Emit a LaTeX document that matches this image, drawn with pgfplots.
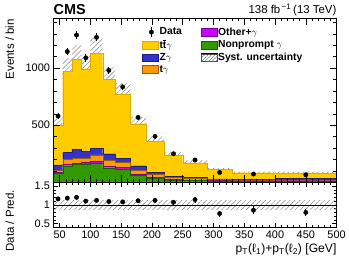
\documentclass[border=0pt]{standalone}
\usepackage{fontspec}
\setmainfont{Liberation Sans}
\usepackage{pgfplots}
\usepackage{pgfplotstable}
\pgfplotsset{compat=1.18}
\usepgfplotslibrary{fillbetween}
\usetikzlibrary{patterns,patterns.meta}

\definecolor{ttcol}{RGB}{255,204,0}
\definecolor{zcol}{RGB}{51,51,204}
\definecolor{tcol}{RGB}{255,153,0}
\definecolor{ocol}{RGB}{204,0,255}
\definecolor{npcol}{RGB}{51,153,0}

% bin left edges, last row repeats last bin at x=500
\pgfplotstableread{
x np oth tg zg tt
40 80 9 14 50 347
55 145 12 45 60 708
70 155 12 45 78 785
85 155 18 37 62 723
100 168 14 58 58 834
120 128 12 50 60 650
140 118 14 44 36 563
165 62 10 35 38 366
190 33 10 25 18 272
220 22 6 14 12 180
250 18 5 12 10 126
290 12 4 8 6 82
330 10 4 7 6 57
400 10 4 6 12 51
500 10 4 6 12 51
}\stacktab

\pgfplotstableread{
x y e r re
47.5 580 24 1.16 0.048
62.5 1145 34 1.18 0.035
77.5 1290 36 1.20 0.034
92.5 1090 33 1.10 0.033
110 1270 36 1.12 0.032
130 980 31 1.09 0.034
152.5 835 29 1.08 0.037
177.5 568 24 1.11 0.047
205 402 20 1.12 0.056
235 250 16 1.07 0.068
270 195 14 1.14 0.08
310 86 9 0.77 0.08
365 72 8.5 0.86 0.10
450 66 8 0.80 0.096
}\datatab

\pgfplotstableread{
x lo up
40 440 560
55 854 1086
70 946 1204
85 876 1114
100 996 1268
120 792 1008
140 682 868
165 450 572
190 315 401
220 206 262
250 150 192
290 99 125
330 74 94
400 73 93
500 73 93
}\bandtab

\pgfplotsset{
  cmsax/.style={
    scale only axis, width=285pt, xmin=40, xmax=500,
    tick align=inside,
    xtick={50,100,...,500},
    minor xtick={40,50,...,500},
    major tick length=7pt, minor tick length=3.5pt,
    tick style={black, line width=0.5pt},
    axis line style={line width=0.6pt},
    ticklabel style={font=\fontsize{11}{12}\selectfont},
    /pgf/number format/assume math mode=true,
    /pgf/number format/set thousands separator={},
  },
  hatch/.style={pattern={Lines[angle=45,distance=3.5pt,line width=0.45pt]}, pattern color=black!50, draw=none},
}

\begin{document}
\begin{tikzpicture}

% ---------- upper panel: stacked prediction ----------
\begin{axis}[cmsax, at={(53.8pt,77.5pt)}, anchor=south west, height=165.5pt,
  ymin=0, ymax=1440, ytick={500,1000}, minor ytick={0,100,...,1400},
  xticklabels={}, stack plots=y, axis on top, clip mode=individual,
  ylabel={Events / bin},
  ylabel style={at={(rel axis cs:0,1)}, anchor=south east, yshift=39.5pt, xshift=-1pt, inner sep=0pt, font=\fontsize{11.6}{12}\selectfont},
]
\addplot[const plot mark left, fill=npcol, draw=npcol!60!black, line width=0.3pt] table[x=x,y=np]{\stacktab} \closedcycle;
\addplot[const plot mark left, fill=ocol, draw=ocol!60!black, line width=0.3pt] table[x=x,y=oth]{\stacktab} \closedcycle;
\addplot[const plot mark left, fill=tcol, draw=tcol!60!black, line width=0.3pt] table[x=x,y=tg]{\stacktab} \closedcycle;
\addplot[const plot mark left, fill=zcol, draw=zcol!60!black, line width=0.3pt] table[x=x,y=zg]{\stacktab} \closedcycle;
\addplot[const plot mark left, fill=ttcol, draw=ttcol!85!black, line width=0.3pt] table[x=x,y=tt]{\stacktab} \closedcycle;
\node[anchor=base west, inner sep=0pt, font=\fontsize{14.5}{15}\selectfont\bfseries] at (rel axis cs:0,1) [yshift=3.5pt] {CMS};
\node[anchor=base east, inner sep=0pt, font=\fontsize{11.5}{12}\selectfont] at (rel axis cs:1,1) [yshift=4.5pt] {138 fb\textsuperscript{\,−1}\,(13 TeV)};
\end{axis}

% ---------- upper panel overlay: uncertainty band, data, legend ----------
\begin{axis}[cmsax, at={(53.8pt,77.5pt)}, anchor=south west, height=165.5pt,
  ymin=0, ymax=1440, axis lines=none, xticklabels={}, yticklabels={},
  legend cell align=left,
  legend style={at={(0.313,0.948)}, anchor=north west, draw=none, fill=none,
    font=\fontsize{10.4}{12}\selectfont\bfseries, legend columns=2,
    /tikz/every even column/.append style={column sep=18pt},
    row sep=1.2pt,
    inner sep=0pt, nodes={inner sep=1pt}},
]
\addplot[name path=up, draw=none, const plot mark left, forget plot] table[x=x,y=up]{\bandtab};
\addplot[name path=lo, draw=none, const plot mark left, forget plot] table[x=x,y=lo]{\bandtab};
\addplot[hatch, forget plot] fill between[of=up and lo];
\addplot[only marks, mark=*, mark size=2.2pt, black, forget plot,
  error bars/.cd, y dir=both, y explicit, error mark=none, error bar style={line width=0.7pt}]
  table[x=x,y=y,y error=e]{\datatab};

\addlegendimage{legend image code/.code={\path (0pt,0pt) (16pt,0pt); \draw[black, line width=0.7pt] (9pt,-5pt) -- (9pt,5pt); \fill[black] (9pt,0pt) circle (2.2pt);}}
\addlegendentry{Data}
\addlegendimage{legend image code/.code={\draw[fill=ocol, draw=ocol!60!black, line width=0.3pt] (0pt,-4pt) rectangle (16pt,4pt);}}
\addlegendentry{Other+$\gamma$}
\addlegendimage{legend image code/.code={\draw[fill=ttcol, draw=ttcol!85!black, line width=0.3pt] (0pt,-4pt) rectangle (16pt,4pt);}}
\addlegendentry{t$\overline{\mbox{t}}\gamma$}
\addlegendimage{legend image code/.code={\draw[fill=npcol, draw=npcol!60!black, line width=0.3pt] (0pt,-4pt) rectangle (16pt,4pt);}}
\addlegendentry{Nonprompt $\gamma$}
\addlegendimage{legend image code/.code={\draw[fill=zcol, draw=zcol!60!black, line width=0.3pt] (0pt,-4pt) rectangle (16pt,4pt);}}
\addlegendentry{Z$\gamma$}
\addlegendimage{legend image code/.code={\fill[white] (0pt,-4pt) rectangle (16pt,4pt); \fill[pattern={Lines[angle=45,distance=2.5pt,line width=0.4pt]}, pattern color=black!60] (0pt,-4pt) rectangle (16pt,4pt); \draw[black!70, line width=0.3pt] (0pt,-4pt) rectangle (16pt,4pt);}}
\addlegendentry{Syst. uncertainty}
\addlegendimage{legend image code/.code={\draw[fill=tcol, draw=tcol!60!black, line width=0.3pt] (0pt,-4pt) rectangle (16pt,4pt);}}
\addlegendentry{t$\gamma$}
\end{axis}

% ---------- lower panel: ratio ----------
\begin{axis}[cmsax, at={(53.8pt,32pt)}, anchor=south west, height=45.5pt,
  ymin=0.4, ymax=1.6, ytick={0.5,1,1.5},
  minor ytick={0.4,0.5,...,1.6},
  major tick length=5pt, minor tick length=2.5pt,
  xlabel={p\textsubscript{T}(ℓ\textsubscript{1})+p\textsubscript{T}(ℓ\textsubscript{2}) [GeV]},
  xlabel style={at={(rel axis cs:1,0)}, anchor=base east, yshift=-25.5pt, inner sep=0pt, font=\fontsize{12.2}{13}\selectfont},
  ylabel={Data / Pred.},
  ylabel style={at={(rel axis cs:0,0.5)}, anchor=south, yshift=39.5pt, xshift=-16pt, inner sep=0pt, font=\fontsize{11.6}{12}\selectfont},
]
\addplot[name path=rup, draw=none, forget plot] coordinates {(40,1.12) (500,1.12)};
\addplot[name path=rlo, draw=none, forget plot] coordinates {(40,0.88) (500,0.88)};
\addplot[hatch, forget plot] fill between[of=rup and rlo];
\addplot[black, line width=0.5pt, forget plot] coordinates {(40,1) (500,1)};
\addplot[only marks, mark=*, mark size=2.2pt, black, forget plot,
  error bars/.cd, y dir=both, y explicit, error mark=none, error bar style={line width=0.7pt}]
  table[x=x,y=r,y error=re]{\datatab};
\end{axis}
\path (0pt,0pt) rectangle (349pt,261pt);
\end{tikzpicture}
\end{document}
